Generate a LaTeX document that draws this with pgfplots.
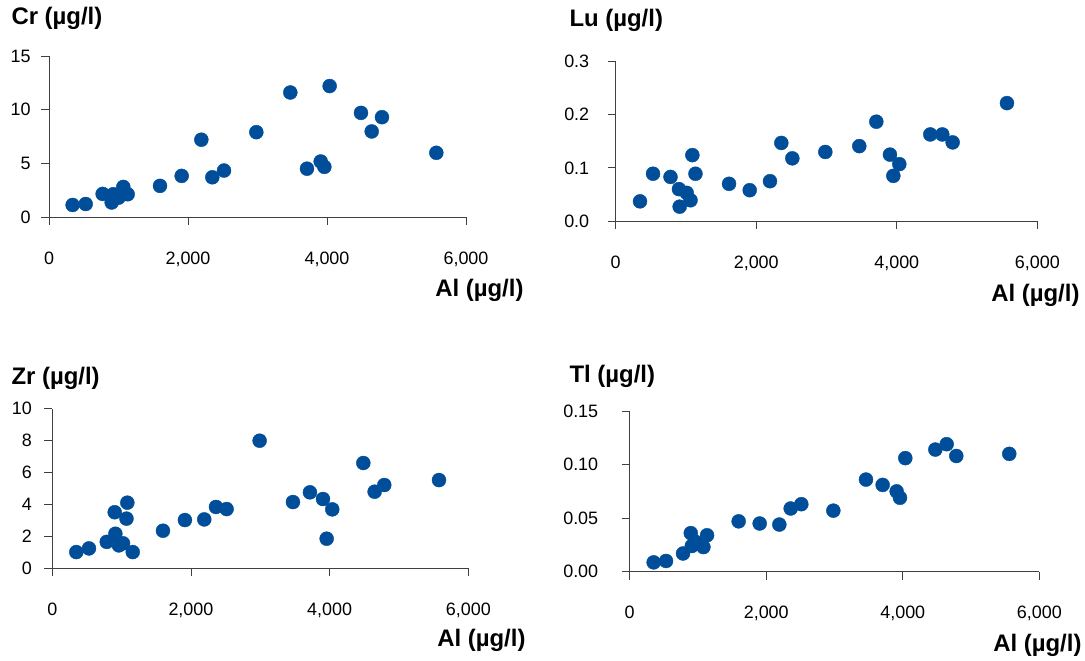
\documentclass[border=0pt]{standalone}
\usepackage{fontspec}
\setmainfont{Liberation Sans}
\usepackage{pgfplots}
\pgfplotsset{compat=1.18}
\definecolor{dotblue}{RGB}{0,77,153}
\definecolor{axgray}{RGB}{64,64,64}

\pgfplotsset{
  panel/.style={
    scale only axis,
    axis x line=bottom, axis y line=left,
    axis line style={-, axgray, line width=0.9bp},
    tick style={axgray, line width=0.9bp},
    tick align=outside, major tick length=8bp,
    xmin=0, xmax=6000, xtick={0,2000,4000,6000},
    scaled x ticks=false, scaled y ticks=false,
    x tick label style={/pgf/number format/1000 sep={,}, yshift=-23bp},
    y tick label style={anchor=east},
    /pgf/number format/assume math mode=true,
    tick label style={font=\fontsize{18}{18}\selectfont},
    clip=false,
  },
  dots/.style={only marks, mark=*, mark size=7bp, mark options={fill=dotblue, draw=dotblue}},
}
\newcommand{\ttl}{\bfseries\fontsize{24}{24}\selectfont}

\begin{document}
\begin{tikzpicture}
\useasboundingbox (0,0) rectangle (1085bp,661bp);

% Cr
\begin{axis}[panel, at={(49bp,444bp)}, anchor=south west, width=417bp, height=161bp,
  ymin=0, ymax=15, ytick={0,5,10,15}, y tick label style={xshift=-7bp}]
\addplot[dots] coordinates {
(340,1.12) (528,1.21) (772,2.15) (902,1.35) (925,2.12) (1000,1.8) (1069,2.8) (1132,2.12)
(1597,2.9) (1909,3.83) (2192,7.2) (2350,3.7) (2518,4.33) (2983,7.9) (3472,11.6)
(3712,4.5) (3909,5.17) (3962,4.67) (4038,12.2) (4489,9.7) (4643,7.97) (4791,9.3) (5573,5.98)};
\end{axis}

% Lu
\begin{axis}[panel, at={(615.7bp,440bp)}, anchor=south west, width=421.6bp, height=159.3bp,
  ymin=0, ymax=0.3, ytick={0,0.1,0.2,0.3}, y tick label style={xshift=-15bp},
  y tick label style={/pgf/number format/.cd, fixed, fixed zerofill, precision=1}]
\addplot[dots] coordinates {
(346,0.037) (531,0.089) (780,0.083) (900,0.060) (910,0.027) (1010,0.053) (1065,0.039)
(1091,0.124) (1135,0.089) (1613,0.070) (1907,0.058) (2196,0.075) (2357,0.147) (2514,0.118)
(2983,0.130) (3467,0.141) (3709,0.187) (3903,0.125) (3951,0.085) (4036,0.107)
(4477,0.163) (4648,0.163) (4795,0.148) (5568,0.222)};
\end{axis}

% Zr
\begin{axis}[panel, at={(52.3bp,93bp)}, anchor=south west, width=416bp, height=159.3bp,
  ymin=0, ymax=10, ytick={0,2,4,6,8,10}, y tick label style={xshift=-9bp}]
\addplot[dots] coordinates {
(346,1.0) (529,1.23) (785,1.64) (900,3.5) (910,2.15) (960,1.42) (1020,1.55) (1082,4.1)
(1070,3.1) (1160,1.0) (1596,2.34) (1913,3.01) (2192,3.05) (2361,3.83) (2514,3.70)
(2990,7.99) (3471,4.14) (3716,4.75) (3904,4.33) (3957,1.84) (4038,3.68) (4486,6.59)
(4649,4.79) (4788,5.21) (5577,5.52)};
\end{axis}

% Tl
\begin{axis}[panel, at={(629.7bp,89.3bp)}, anchor=south west, width=409.6bp, height=160.7bp,
  ymin=0, ymax=0.15, ytick={0,0.05,0.1,0.15}, y tick label style={xshift=-20bp},
  y tick label style={/pgf/number format/.cd, fixed, fixed zerofill, precision=2}]
\addplot[dots] coordinates {
(351,0.0087) (532,0.010) (781,0.017) (895,0.036) (910,0.024) (960,0.028) (1080,0.023)
(1133,0.034) (1596,0.047) (1904,0.045) (2192,0.044) (2358,0.059) (2514,0.063)
(2983,0.057) (3461,0.086) (3705,0.081) (3910,0.075) (3959,0.069) (4037,0.106)
(4477,0.114) (4643,0.119) (4784,0.108) (5560,0.110)};
\end{axis}

\node[anchor=west, font=\ttl] at (8bp,643bp) {Cr (µg/l)};
\node[anchor=west, font=\ttl] at (566bp,641bp) {Lu (µg/l)};
\node[anchor=west, font=\ttl] at (8bp,283bp) {Zr (µg/l)};
\node[anchor=west, font=\ttl] at (566bp,285bp) {Tl (µg/l)};
\node[anchor=east, font=\ttl] at (527bp,371bp) {Al (µg/l)};
\node[anchor=east, font=\ttl] at (1083bp,366bp) {Al (µg/l)};
\node[anchor=east, font=\ttl] at (529bp,21bp) {Al (µg/l)};
\node[anchor=east, font=\ttl] at (1085bp,16bp) {Al (µg/l)};
\end{tikzpicture}
\end{document}
